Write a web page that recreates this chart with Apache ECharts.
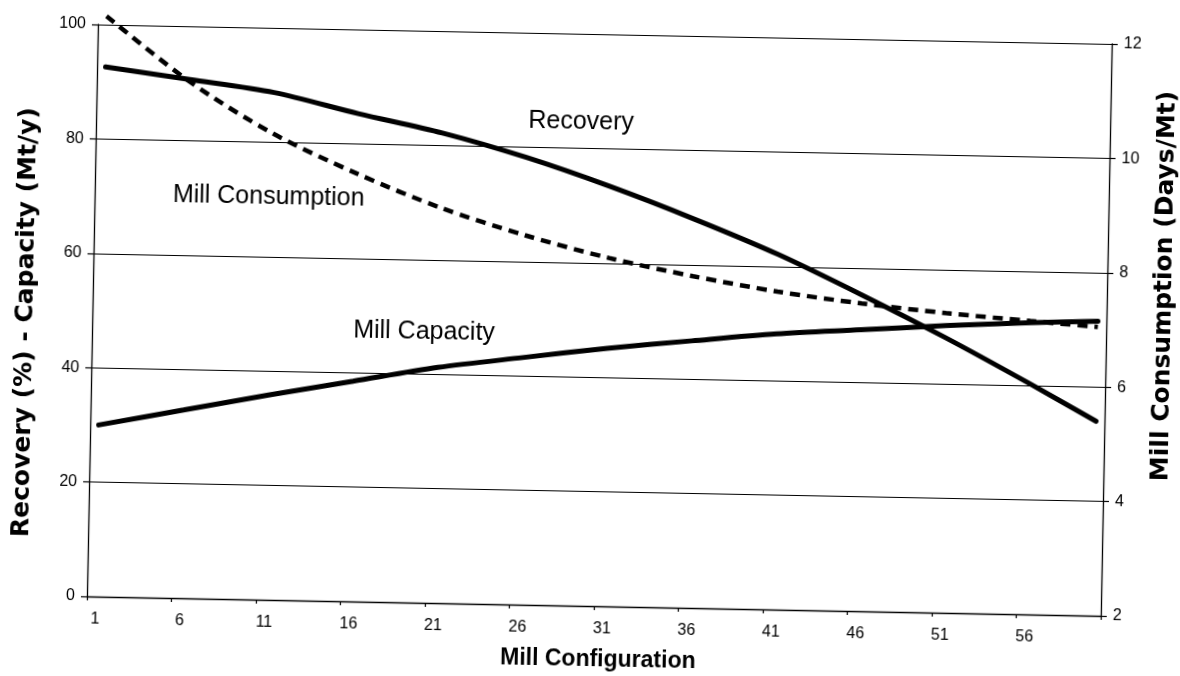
<!DOCTYPE html>
<html>
<head>
<meta charset="utf-8">
<script src="https://cdn.jsdelivr.net/npm/echarts@6/dist/echarts.min.js"></script>
<style>
  html, body { margin: 0; padding: 0; background: #ffffff; overflow: hidden; }
  #main { width: 1180px; height: 676px; transform: rotate(1.1deg); transform-origin: 50% 50%; }
</style>
</head>
<body>
<div id="main"></div>
<script>
// ---- data ----
const categories = ['1','2','3','4','5','6','7','8','9','10','11','12','13','14','15','16','17','18','19','20',
  '21','22','23','24','25','26','27','28','29','30','31','32','33','34','35','36','37','38','39','40',
  '41','42','43','44','45','46','47','48','49','50','51','52','53','54','55','56','57','58','59','60'];
const sampleCats = ['1','6','11','16','21','26','31','36','41','46','51','56','60'];
const recovery    = [92.6, 90.7, 88.7, 85.3, 82.2, 78.2, 73.4, 68.0, 62.1, 55.3, 48.1, 40.4, 34.0];
const capacity    = [30.0, 32.9, 35.8, 38.5, 41.2, 43.2, 45.1, 46.7, 48.2, 49.2, 50.2, 51.0, 51.5];
const consumption = [12.15, 11.03, 10.15, 9.48, 8.91, 8.46, 8.09, 7.80, 7.56, 7.38, 7.24, 7.13, 7.05];
const leftTicks  = { min: 0, max: 100, interval: 20 };
const rightTicks = { min: 2, max: 12, interval: 2 };

const pairs = vals => sampleCats.map((c, i) => [c, vals[i]]);
const FONT = '"Liberation Sans", Arial, sans-serif';

const chart = echarts.init(document.getElementById('main'), null, { renderer: 'canvas' });
const axisCommon = {
  axisLine: { show: true, lineStyle: { color: '#000', width: 1.3 } },
  axisTick: { show: true, inside: false, length: 6, lineStyle: { color: '#000', width: 1.2 } },
  axisLabel: { color: '#000', fontSize: 16, fontFamily: FONT, margin: 12 }
};
chart.setOption({
  backgroundColor: '#ffffff',
  animation: false,
  grid: { left: 92, right: 74, top: 34, bottom: 70, containLabel: false },
  xAxis: {
    type: 'category',
    data: categories,
    boundaryGap: true,
    axisLine: { show: true, onZero: true, lineStyle: { color: '#000', width: 1.3 } },
    axisTick: { show: true, interval: 4, length: 4, lineStyle: { color: '#000', width: 1.2 } },
    axisLabel: { interval: 4, color: '#000', fontSize: 16, fontFamily: FONT, margin: 15 },
    splitLine: { show: false }
  },
  yAxis: [
    Object.assign({
      type: 'value', position: 'left',
      min: leftTicks.min, max: leftTicks.max, interval: leftTicks.interval,
      splitLine: { show: true, lineStyle: { color: '#000', width: 1 } }
    }, axisCommon),
    Object.assign({
      type: 'value', position: 'right',
      min: rightTicks.min, max: rightTicks.max, interval: rightTicks.interval,
      splitLine: { show: false }
    }, axisCommon)
  ],
  series: [
    {
      name: 'Recovery', type: 'line', yAxisIndex: 0,
      data: pairs(recovery), smooth: 0.3,
      showSymbol: false, symbol: 'none',
      lineStyle: { color: '#000', width: 5, cap: 'round' }
    },
    {
      name: 'Mill Capacity', type: 'line', yAxisIndex: 0,
      data: pairs(capacity), smooth: 0.3,
      showSymbol: false, symbol: 'none',
      lineStyle: { color: '#000', width: 5, cap: 'round' }
    },
    {
      name: 'Mill Consumption', type: 'line', yAxisIndex: 1,
      data: pairs(consumption), smooth: 0.3,
      showSymbol: false, symbol: 'none', clip: false,
      lineStyle: { color: '#000', width: 4.5, type: [10, 7], cap: 'butt' }
    }
  ],
  graphic: [
    { type: 'text', x: 577, y: 122, style: { text: 'Recovery', font: '25px ' + FONT, fill: '#000', align: 'center', verticalAlign: 'middle' } },
    { type: 'text', x: 266, y: 203, style: { text: 'Mill Consumption', font: '25px ' + FONT, fill: '#000', align: 'center', verticalAlign: 'middle' } },
    { type: 'text', x: 424, y: 335, style: { text: 'Mill Capacity', font: '25px ' + FONT, fill: '#000', align: 'center', verticalAlign: 'middle' } },
    { type: 'text', x: 604, y: 660, style: { text: 'Mill Configuration', font: 'bold 23px ' + FONT, fill: '#000', align: 'center', verticalAlign: 'middle' } },
    { type: 'text', x: 25, y: 333, rotation: Math.PI / 2, style: { text: 'Recovery (%) - Capacity (Mt/y)', font: 'bold 25px "DejaVu Sans", sans-serif', fill: '#000', align: 'center', verticalAlign: 'middle' } },
    { type: 'text', x: 1163, y: 275, rotation: Math.PI / 2, style: { text: 'Mill Consumption (Days/Mt)', font: 'bold 25px "DejaVu Sans", sans-serif', fill: '#000', align: 'center', verticalAlign: 'middle' } }
  ]
});
</script>
</body>
</html>
